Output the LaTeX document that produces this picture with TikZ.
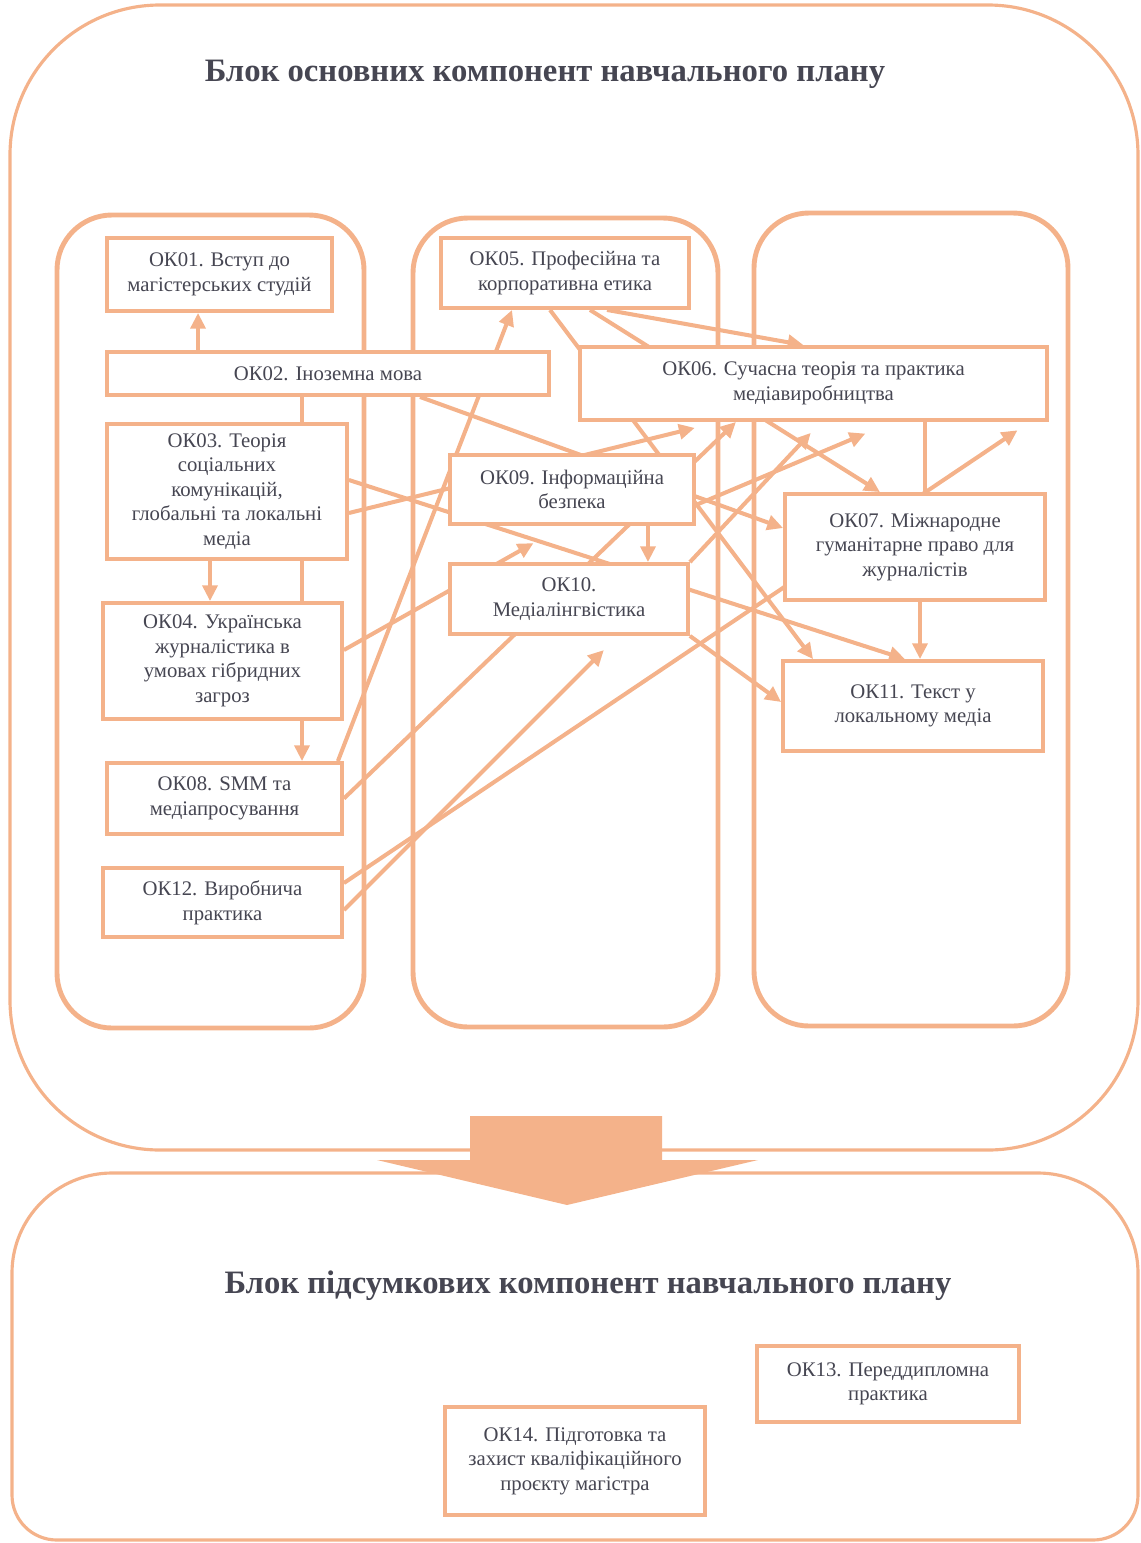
\documentclass[tikz,border=0pt]{standalone}
\usepackage{fontspec}
\setmainfont{Liberation Serif}
\usepackage{xcolor}
\usepackage{tikz}
\usetikzlibrary{arrows.meta,calc}
\definecolor{okline}{RGB}{244,178,138}
\definecolor{oktext}{RGB}{70,70,82}
\pgfdeclarelayer{bg}
\pgfsetlayers{bg,main}

\begin{document}
\begin{tikzpicture}[x=0.02cm,y=-0.02cm,
    okbox/.style={draw=okline,line width=2.2pt,fill=white,align=center,inner sep=2pt,
      text=oktext,font=\fontsize{11.8}{14}\selectfont},
    colbox/.style={draw=okline,line width=2.8pt,rounded corners=1.1cm},
    link/.style={draw=okline,line width=2.3pt,-{Triangle[length=9pt,width=8.5pt]}},
    plain/.style={draw=okline,line width=2.3pt},
    blocktitle/.style={text=oktext,font=\fontsize{18.6}{22}\selectfont\bfseries}]
    \clip (0,0) rectangle (1141,1543);
    % outer blocks
    \draw[okline,line width=1.8pt,rounded corners=3cm] (10,5) rectangle (1138,1150);
    \draw[okline,line width=1.8pt] (575,1173) -- (1038,1173) .. controls (1093,1173) and (1138,1218) .. (1138,1273)
        -- (1138,1495) .. controls (1138,1520) and (1118,1540) .. (1093,1540) -- (57,1540)
        .. controls (32,1540) and (12,1520) .. (12,1495) -- (12,1273)
        .. controls (12,1218) and (57,1173) .. (112,1173) -- cycle;
    \fill[okline] (470,1116) -- (662,1116) -- (662,1160) -- (758,1160) -- (567,1205)
        -- (377,1160) -- (470,1160) -- cycle;
    \node[blocktitle] (title1) at (545,74) {Блок основних компонент навчального плану};
    \node[blocktitle] (title2) at (588,1286) {Блок підсумкових компонент навчального плану};
    % first column
    \node[okbox,minimum width=4.5cm,minimum height=1.46cm] (ok01) at (219.5,274.5) {ОК01. Вступ до\\магістерських студій};
    \node[okbox,minimum width=8.84cm,minimum height=0.86cm] (ok02) at (328,373.5) {ОК02. Іноземна мова};
    \node[okbox,minimum width=4.8cm,minimum height=2.7cm] (ok03) at (227,491.5) {ОК03. Теорія\\соціальних\\комунікацій,\\глобальні та локальні\\медіа};
    \node[okbox,minimum width=4.78cm,minimum height=2.32cm] (ok04) at (222.5,661) {ОК04. Українська\\журналістика в\\умовах гібридних\\загроз};
    \node[okbox,minimum width=4.7cm,minimum height=1.42cm] (ok08) at (224.5,798.5) {ОК08. SMM та\\медіапросування};
    \node[okbox,minimum width=4.78cm,minimum height=1.38cm] (ok12) at (222.5,902.5) {ОК12. Виробнича\\практика};
    % second column
    \node[okbox,minimum width=4.96cm,minimum height=1.4cm] (ok05) at (565,273) {ОК05. Професійна та\\корпоративна етика};
    \node[okbox,minimum width=9.34cm,minimum height=1.46cm] (ok06) at (813.5,383.5) {ОК06. Сучасна теорія та практика\\медіавиробництва};
    \node[okbox,minimum width=4.88cm,minimum height=1.38cm] (ok09) at (572,489.5) {ОК09. Інформаційна\\безпека};
    \node[okbox,minimum width=4.76cm,minimum height=1.4cm] (ok10) at (569,599) {ОК10.\\Медіалінгвістика};
    % third column
    \node[okbox,minimum width=5.2cm,minimum height=2.12cm] (ok07) at (915,547) {ОК07. Міжнародне\\гуманітарне право для\\журналістів};
    \node[okbox,minimum width=5.2cm,minimum height=1.8cm] (ok11) at (913,706) {ОК11. Текст у\\локальному медіа};
    % final block
    \node[okbox,minimum width=5.24cm,minimum height=1.52cm] (ok13) at (888,1384) {ОК13. Переддипломна\\практика};
    \node[okbox,minimum width=5.2cm,minimum height=2.16cm] (ok14) at (575,1461) {ОК14. Підготовка та\\захист кваліфікаційного\\проєкту магістра};
    \begin{pgfonlayer}{bg}
    \draw[colbox] (57,215) rectangle (364,1028);
    \draw[colbox] (413,218) rectangle (718,1027);
    \draw[colbox] (754,213) rectangle (1068,1026);
    % straight links
    \draw[link] ([xshift=-2.6cm]ok02.north) -- ([xshift=-2.6cm]ok02.north |- ok01.south);
    \draw[link] ([xshift=-0.52cm]ok02.south) -- ([xshift=-0.52cm]ok02.south |- ok08.north);
    \draw[link] ([xshift=-0.34cm]ok03.south) -- ([xshift=-0.34cm]ok03.south |- ok04.north);
    \draw[link] ([xshift=1.52cm]ok09.south) -- ([xshift=1.52cm]ok09.south |- ok10.north);
    \draw[plain] ([xshift=2.23cm]ok06.south) -- ([xshift=2.23cm]ok06.south |- ok07.north);
    \draw[link] ([xshift=0.1cm]ok07.south) -- ([xshift=0.1cm]ok07.south |- ok11.north);
    % crossing links
    \draw[link] ([xshift=-0.12cm]ok08.north east) -- ([xshift=-1.06cm]ok05.south);
    \draw[link] (ok08.east) -- ([xshift=-1.55cm]ok06.south);
    \draw[link,shorten >=0.4cm] ([yshift=-0.15cm]ok12.east) -- ([xshift=0.98cm]ok10.south);
    \draw[link,shorten >=0.3cm] ([yshift=0.39cm]ok12.east) -- ([xshift=4.33cm]ok06.south);
    \draw[link,shorten >=0.7cm] ([yshift=0.22cm]ok04.east) -- ([xshift=-0.16cm]ok09.south);
    \draw[link,shorten >=0.5cm] ([yshift=-0.43cm]ok03.east) -- ([xshift=-1.89cm]ok06.south);
    \draw[link] ([yshift=0.23cm]ok03.east) -- ([xshift=-0.16cm]ok11.north);
    \draw[link] ([xshift=1.84cm]ok02.south) -- ([yshift=0.38cm]ok07.west);
    \draw[link] ([xshift=0.84cm]ok05.south) -- ([xshift=-0.2cm]ok06.north);
    \draw[link] ([xshift=0.5cm]ok05.south) -- ([xshift=-0.7cm]ok07.north);
    \draw[link] ([xshift=-0.3cm]ok05.south) -- ([xshift=-2cm]ok11.north);
    \draw[link,shorten >=0.6cm] ([yshift=-0.31cm]ok09.east) -- ([xshift=1.59cm]ok06.south);
    \draw[link,shorten >=0.3cm] (ok10.north east) -- ([xshift=0.15cm]ok06.south);
    \draw[link] (ok10.south east) -- ([yshift=0.08cm]ok11.west);
    \end{pgfonlayer}
\end{tikzpicture}
\end{document}
